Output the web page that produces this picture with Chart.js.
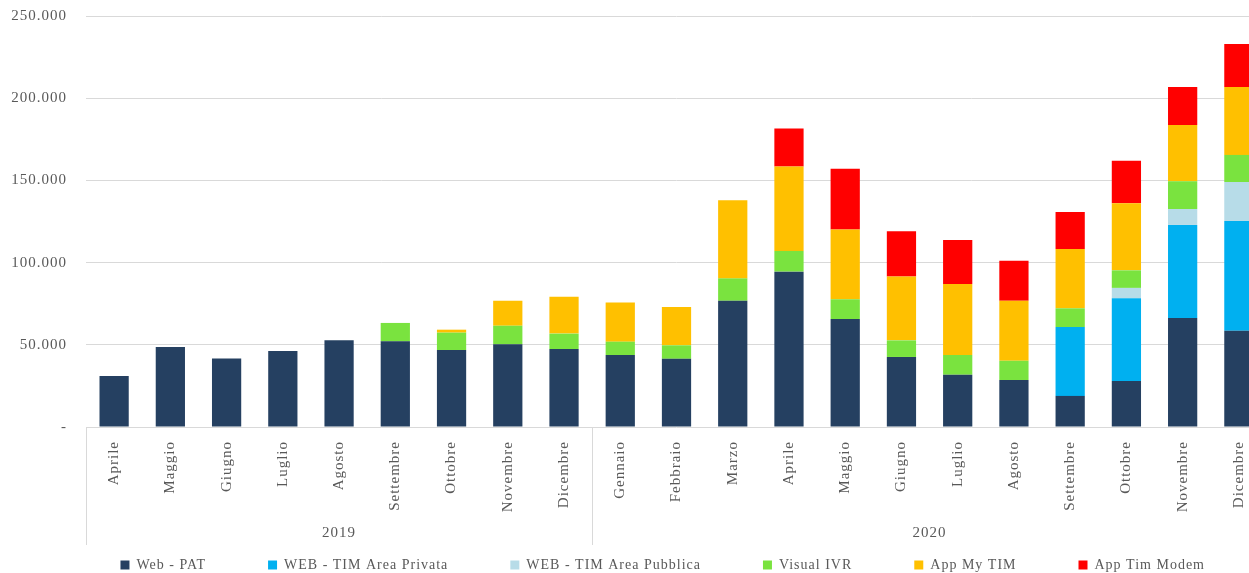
<!DOCTYPE html>
<html>
<head>
<meta charset="utf-8">
<script src="https://cdn.jsdelivr.net/npm/chart.js@4"></script>
<style>
  html, body { margin: 0; padding: 0; background: #fff; overflow: hidden; }
  #wrap { width: 1334px; height: 573px; }
</style>
</head>
<body>
<div id="wrap"><canvas id="chart_1" width="1334" height="573"></canvas></div>
<script>
const months = ["Aprile", "Maggio", "Giugno", "Luglio", "Agosto", "Settembre", "Ottobre", "Novembre", "Dicembre",
  "Gennaio", "Febbraio", "Marzo", "Aprile", "Maggio", "Giugno", "Luglio", "Agosto", "Settembre", "Ottobre", "Novembre", "Dicembre"];
const years = ["2019", "2020"];
const yearSpans = [9, 12]; // months per year

const webPat = [31000, 48700, 41600, 46200, 52700, 52100, 46800, 50300, 47400,
  43800, 41500, 76800, 94500, 65700, 42600, 31800, 28600, 18900, 28000, 66300, 58600];
const timPrivata = [null, null, null, null, null, null, null, null, null,
  null, null, null, null, null, null, null, null, 41900, 50300, 56600, 66700];
const timPubblica = [null, null, null, null, null, null, null, null, null,
  null, null, null, null, null, null, null, null, null, 6300, 9700, 23700];
const visualIvr = [null, null, null, null, null, 11200, 10600, 11300, 9400,
  8100, 8200, 13600, 12600, 12000, 10100, 12000, 11700, 11400, 10700, 16900, 16500];
const appMyTim = [null, null, null, null, null, null, 1800, 15200, 22500,
  23900, 23300, 47500, 51300, 42500, 38900, 43200, 36500, 36100, 40800, 34200, 41300];
const appTimModem = [null, null, null, null, null, null, null, null, null,
  null, null, null, 23100, 36900, 27400, 26800, 24400, 22500, 25900, 23100, 26200];

const TEXT_COLOR = "#595959";
const GRID_COLOR = "#d9d9d9";
const SERIF = "'Liberation Serif', 'Times New Roman', serif";

// spaced-out lettering, like the original export
const letterSpacing = {
  id: "letterSpacing",
  beforeLayout(chart) { chart.ctx.letterSpacing = "1px"; },
  beforeDraw(chart) { chart.ctx.letterSpacing = "1px"; },
};

// second level of the category axis: years + separators
const yearAxis = {
  id: "yearAxis",
  afterDraw(chart) {
    const x = chart.scales.x;
    const ctx = chart.ctx;
    const half = (x.getPixelForValue(1) - x.getPixelForValue(0)) / 2;
    ctx.save();
    ctx.strokeStyle = GRID_COLOR;
    ctx.lineWidth = 1;
    ctx.fillStyle = TEXT_COLOR;
    ctx.font = "15px " + SERIF;
    ctx.textAlign = "center";
    ctx.textBaseline = "middle";
    let start = 0;
    years.forEach((year, i) => {
      const end = start + yearSpans[i] - 1;
      const left = x.getPixelForValue(start) - half;
      const right = x.getPixelForValue(end) + half;
      [left, right].forEach((px) => {
        ctx.beginPath();
        ctx.moveTo(Math.round(px) + 0.5, x.top);
        ctx.lineTo(Math.round(px) + 0.5, 545);
        ctx.stroke();
      });
      ctx.fillText(year, (left + right) / 2, 533);
      start = end + 1;
    });
    ctx.restore();
  },
};

function dataset(label, data, color) {
  return {
    label: label,
    data: data,
    backgroundColor: color,
    borderColor: color,
    borderWidth: 0,
    categoryPercentage: 1,
    barPercentage: 0.52,
  };
}

const ctx = document.getElementById("chart_1").getContext("2d");

window.myChart = new Chart(ctx, {
  type: "bar",
  data: {
    labels: months,
    datasets: [
      dataset("Web - PAT", webPat, "#254061"),
      dataset("WEB - TIM Area Privata", timPrivata, "#00B0F0"),
      dataset("WEB - TIM Area Pubblica", timPubblica, "#B7DCE8"),
      dataset("Visual IVR", visualIvr, "#7AE33F"),
      dataset("App My TIM", appMyTim, "#FFC000"),
      dataset("App Tim Modem", appTimModem, "#FF0000"),
    ],
  },
  options: {
    responsive: false,
    animation: false,
    layout: {
      padding: { top: 16, right: 67, bottom: -9, left: 0 },
    },
    scales: {
      x: {
        stacked: true,
        grid: { display: false },
        border: { display: false },
        ticks: {
          autoSkip: false,
          minRotation: 90,
          maxRotation: 90,
          padding: 6,
          color: TEXT_COLOR,
          font: { family: SERIF, size: 15 },
        },
        afterFit: (scale) => { scale.height = 109; },
      },
      y: {
        stacked: true,
        min: 0,
        max: 250000,
        grid: { color: GRID_COLOR, drawTicks: false },
        border: { display: false },
        ticks: {
          stepSize: 50000,
          padding: 19,
          color: TEXT_COLOR,
          font: { family: SERIF, size: 15 },
          callback: (v) => (v === 0 ? "-" : v.toLocaleString("it-IT")),
        },
        afterFit: (scale) => {
          scale.width = 86;
          // keep the tick padding from pushing the plot down
          scale.paddingTop = 0;
          scale.paddingBottom = 0;
        },
      },
    },
    plugins: {
      legend: {
        position: "bottom",
        align: "end",
        // empty title with negative padding pulls the legend row up close to its box top
        title: { display: true, text: "", font: { size: 10 }, padding: { top: -26, bottom: -26 } },
        labels: {
          boxWidth: 9,
          boxHeight: 9,
          padding: 62,
          color: TEXT_COLOR,
          font: { family: SERIF, size: 14 },
        },
      },
      tooltip: { enabled: false },
    },
  },
  plugins: [letterSpacing, yearAxis],
});
</script>
</body>
</html>
